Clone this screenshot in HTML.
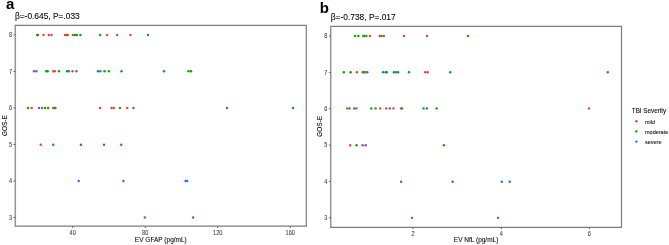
<!DOCTYPE html>
<html><head><meta charset="utf-8"><style>
html,body{margin:0;padding:0;background:#fff;}
svg{display:block;filter:blur(0.25px);font-family:"Liberation Sans",sans-serif;}
</style></head><body>
<svg width="669" height="245" viewBox="0 0 669 245">
<rect width="669" height="245" fill="#fff"/>
<line x1="14.70" y1="25.45" x2="306.90" y2="25.45" stroke="#7c7c7c" stroke-width="1.2"/>
<line x1="14.70" y1="226.20" x2="306.90" y2="226.20" stroke="#7c7c7c" stroke-width="1.2"/>
<line x1="306.30" y1="25.45" x2="306.30" y2="226.20" stroke="#7c7c7c" stroke-width="1.2"/>
<line x1="15.30" y1="25.45" x2="15.30" y2="226.20" stroke="#959595" stroke-width="1.5"/>
<line x1="13.50" y1="217.50" x2="15.30" y2="217.50" stroke="#555555" stroke-width="0.9"/>
<text transform="translate(12.00,219.80) scale(0.9,1.08)" font-size="6.2" fill="#3c3c3c" stroke="#3c3c3c" stroke-width="0.06" text-anchor="end">3</text>
<line x1="13.50" y1="180.98" x2="15.30" y2="180.98" stroke="#555555" stroke-width="0.9"/>
<text transform="translate(12.00,183.28) scale(0.9,1.08)" font-size="6.2" fill="#3c3c3c" stroke="#3c3c3c" stroke-width="0.06" text-anchor="end">4</text>
<line x1="13.50" y1="144.46" x2="15.30" y2="144.46" stroke="#555555" stroke-width="0.9"/>
<text transform="translate(12.00,146.76) scale(0.9,1.08)" font-size="6.2" fill="#3c3c3c" stroke="#3c3c3c" stroke-width="0.06" text-anchor="end">5</text>
<line x1="13.50" y1="107.94" x2="15.30" y2="107.94" stroke="#555555" stroke-width="0.9"/>
<text transform="translate(12.00,110.24) scale(0.9,1.08)" font-size="6.2" fill="#3c3c3c" stroke="#3c3c3c" stroke-width="0.06" text-anchor="end">6</text>
<line x1="13.50" y1="71.42" x2="15.30" y2="71.42" stroke="#555555" stroke-width="0.9"/>
<text transform="translate(12.00,73.72) scale(0.9,1.08)" font-size="6.2" fill="#3c3c3c" stroke="#3c3c3c" stroke-width="0.06" text-anchor="end">7</text>
<line x1="13.50" y1="34.90" x2="15.30" y2="34.90" stroke="#555555" stroke-width="0.9"/>
<text transform="translate(12.00,37.20) scale(0.9,1.08)" font-size="6.2" fill="#3c3c3c" stroke="#3c3c3c" stroke-width="0.06" text-anchor="end">8</text>
<line x1="72.70" y1="226.20" x2="72.70" y2="228.00" stroke="#555555" stroke-width="0.9"/>
<text transform="translate(72.70,234.80) scale(0.9,1.08)" font-size="6.2" fill="#3c3c3c" stroke="#3c3c3c" stroke-width="0.06" text-anchor="middle">40</text>
<line x1="145.20" y1="226.20" x2="145.20" y2="228.00" stroke="#555555" stroke-width="0.9"/>
<text transform="translate(145.20,234.80) scale(0.9,1.08)" font-size="6.2" fill="#3c3c3c" stroke="#3c3c3c" stroke-width="0.06" text-anchor="middle">80</text>
<line x1="217.70" y1="226.20" x2="217.70" y2="228.00" stroke="#555555" stroke-width="0.9"/>
<text transform="translate(217.70,234.80) scale(0.9,1.08)" font-size="6.2" fill="#3c3c3c" stroke="#3c3c3c" stroke-width="0.06" text-anchor="middle">120</text>
<line x1="290.20" y1="226.20" x2="290.20" y2="228.00" stroke="#555555" stroke-width="0.9"/>
<text transform="translate(290.20,234.80) scale(0.9,1.08)" font-size="6.2" fill="#3c3c3c" stroke="#3c3c3c" stroke-width="0.06" text-anchor="middle">160</text>
<circle cx="37.0" cy="34.95" r="1.2" fill="#f83838"/>
<circle cx="37.9" cy="34.95" r="1.2" fill="#00a800"/>
<circle cx="43.5" cy="34.95" r="1.2" fill="#f83838"/>
<circle cx="48.8" cy="34.95" r="1.2" fill="#f83838"/>
<circle cx="51.5" cy="34.95" r="1.2" fill="#f83838"/>
<circle cx="66.4" cy="34.95" r="1.2" fill="#00a800"/>
<circle cx="65.0" cy="34.95" r="1.2" fill="#f83838"/>
<circle cx="67.8" cy="34.95" r="1.2" fill="#f83838"/>
<circle cx="72.9" cy="34.95" r="1.2" fill="#f83838"/>
<circle cx="75.0" cy="34.95" r="1.2" fill="#00a800"/>
<circle cx="76.9" cy="34.95" r="1.2" fill="#00a800"/>
<circle cx="80.4" cy="34.95" r="1.2" fill="#00a800"/>
<circle cx="100.2" cy="34.95" r="1.2" fill="#00a800"/>
<circle cx="107.2" cy="34.95" r="1.2" fill="#f83838"/>
<circle cx="117.2" cy="34.95" r="1.2" fill="#f83838"/>
<circle cx="130.5" cy="34.95" r="1.2" fill="#f83838"/>
<circle cx="148.0" cy="34.95" r="1.2" fill="#00a800"/>
<circle cx="34.0" cy="71.25" r="1.2" fill="#f83838"/>
<circle cx="36.3" cy="71.25" r="1.2" fill="#226cff"/>
<circle cx="46.3" cy="71.25" r="1.2" fill="#00a800"/>
<circle cx="47.7" cy="71.25" r="1.2" fill="#00a800"/>
<circle cx="53.4" cy="71.25" r="1.2" fill="#f83838"/>
<circle cx="54.8" cy="71.25" r="1.2" fill="#f83838"/>
<circle cx="58.9" cy="71.25" r="1.2" fill="#00a800"/>
<circle cx="68.9" cy="71.25" r="1.2" fill="#226cff"/>
<circle cx="67.0" cy="71.25" r="1.2" fill="#00a800"/>
<circle cx="72.5" cy="71.25" r="1.2" fill="#f83838"/>
<circle cx="76.4" cy="71.25" r="1.2" fill="#226cff"/>
<circle cx="98.0" cy="71.25" r="1.2" fill="#00a800"/>
<circle cx="100.3" cy="71.25" r="1.2" fill="#226cff"/>
<circle cx="104.5" cy="71.25" r="1.2" fill="#00a800"/>
<circle cx="108.9" cy="71.25" r="1.2" fill="#00a800"/>
<circle cx="121.5" cy="71.25" r="1.2" fill="#00a800"/>
<circle cx="164.1" cy="71.25" r="1.2" fill="#00a800"/>
<circle cx="188.5" cy="71.25" r="1.2" fill="#00a800"/>
<circle cx="191.0" cy="71.25" r="1.2" fill="#00a800"/>
<circle cx="28.1" cy="107.95" r="1.2" fill="#00a800"/>
<circle cx="31.7" cy="107.95" r="1.2" fill="#f83838"/>
<circle cx="39.0" cy="107.95" r="1.2" fill="#226cff"/>
<circle cx="42.0" cy="107.95" r="1.2" fill="#f83838"/>
<circle cx="45.1" cy="107.95" r="1.2" fill="#00a800"/>
<circle cx="48.2" cy="107.95" r="1.2" fill="#00a800"/>
<circle cx="53.2" cy="107.95" r="1.2" fill="#f83838"/>
<circle cx="55.5" cy="107.95" r="1.2" fill="#f83838"/>
<circle cx="54.5" cy="107.95" r="1.2" fill="#00a800"/>
<circle cx="100.1" cy="107.95" r="1.2" fill="#f83838"/>
<circle cx="111.6" cy="107.95" r="1.2" fill="#f83838"/>
<circle cx="113.8" cy="107.95" r="1.2" fill="#f83838"/>
<circle cx="119.9" cy="107.95" r="1.2" fill="#00a800"/>
<circle cx="127.3" cy="107.95" r="1.2" fill="#f83838"/>
<circle cx="133.4" cy="107.95" r="1.2" fill="#226cff"/>
<circle cx="227.0" cy="107.95" r="1.2" fill="#226cff"/>
<circle cx="293.0" cy="107.95" r="1.2" fill="#00a800"/>
<circle cx="40.7" cy="144.70" r="1.2" fill="#f83838"/>
<circle cx="53.2" cy="144.70" r="1.2" fill="#00a800"/>
<circle cx="80.9" cy="144.70" r="1.2" fill="#00a800"/>
<circle cx="104.0" cy="144.70" r="1.2" fill="#226cff"/>
<circle cx="121.2" cy="144.70" r="1.2" fill="#00a800"/>
<circle cx="78.7" cy="181.05" r="1.2" fill="#226cff"/>
<circle cx="123.4" cy="181.05" r="1.2" fill="#226cff"/>
<circle cx="185.6" cy="181.05" r="1.2" fill="#226cff"/>
<circle cx="187.2" cy="181.05" r="1.2" fill="#226cff"/>
<circle cx="144.8" cy="217.50" r="1.2" fill="#226cff"/>
<circle cx="193.1" cy="217.50" r="1.2" fill="#226cff"/>
<text x="160.80" y="241.7" font-size="6.5" fill="#000" stroke="#000" stroke-width="0.07" text-anchor="middle">EV GFAP (pg/mL)</text>
<text transform="translate(6.6,125.70) rotate(-90)" font-size="6.45" fill="#000" stroke="#000" stroke-width="0.07" text-anchor="middle">GOS-E</text>
<text x="14.9" y="18.8" font-size="8.4" fill="#000" stroke="#000" stroke-width="0.08">β=-0.645, P=.033</text>
<text x="6.0" y="9.2" font-size="15" font-weight="bold" fill="#000">a</text>
<line x1="330.10" y1="26.40" x2="622.10" y2="26.40" stroke="#7c7c7c" stroke-width="1.2"/>
<line x1="330.10" y1="227.30" x2="622.10" y2="227.30" stroke="#7c7c7c" stroke-width="1.2"/>
<line x1="621.50" y1="26.40" x2="621.50" y2="227.30" stroke="#7c7c7c" stroke-width="1.2"/>
<line x1="330.70" y1="26.40" x2="330.70" y2="227.30" stroke="#959595" stroke-width="1.5"/>
<line x1="328.90" y1="217.80" x2="330.70" y2="217.80" stroke="#555555" stroke-width="0.9"/>
<text transform="translate(327.40,220.10) scale(0.9,1.08)" font-size="6.2" fill="#3c3c3c" stroke="#3c3c3c" stroke-width="0.06" text-anchor="end">3</text>
<line x1="328.90" y1="181.44" x2="330.70" y2="181.44" stroke="#555555" stroke-width="0.9"/>
<text transform="translate(327.40,183.74) scale(0.9,1.08)" font-size="6.2" fill="#3c3c3c" stroke="#3c3c3c" stroke-width="0.06" text-anchor="end">4</text>
<line x1="328.90" y1="145.08" x2="330.70" y2="145.08" stroke="#555555" stroke-width="0.9"/>
<text transform="translate(327.40,147.38) scale(0.9,1.08)" font-size="6.2" fill="#3c3c3c" stroke="#3c3c3c" stroke-width="0.06" text-anchor="end">5</text>
<line x1="328.90" y1="108.72" x2="330.70" y2="108.72" stroke="#555555" stroke-width="0.9"/>
<text transform="translate(327.40,111.02) scale(0.9,1.08)" font-size="6.2" fill="#3c3c3c" stroke="#3c3c3c" stroke-width="0.06" text-anchor="end">6</text>
<line x1="328.90" y1="72.36" x2="330.70" y2="72.36" stroke="#555555" stroke-width="0.9"/>
<text transform="translate(327.40,74.66) scale(0.9,1.08)" font-size="6.2" fill="#3c3c3c" stroke="#3c3c3c" stroke-width="0.06" text-anchor="end">7</text>
<line x1="328.90" y1="36.00" x2="330.70" y2="36.00" stroke="#555555" stroke-width="0.9"/>
<text transform="translate(327.40,38.30) scale(0.9,1.08)" font-size="6.2" fill="#3c3c3c" stroke="#3c3c3c" stroke-width="0.06" text-anchor="end">8</text>
<line x1="413.10" y1="227.30" x2="413.10" y2="229.10" stroke="#555555" stroke-width="0.9"/>
<text transform="translate(413.10,235.90) scale(0.9,1.08)" font-size="6.2" fill="#3c3c3c" stroke="#3c3c3c" stroke-width="0.06" text-anchor="middle">2</text>
<line x1="501.30" y1="227.30" x2="501.30" y2="229.10" stroke="#555555" stroke-width="0.9"/>
<text transform="translate(501.30,235.90) scale(0.9,1.08)" font-size="6.2" fill="#3c3c3c" stroke="#3c3c3c" stroke-width="0.06" text-anchor="middle">4</text>
<line x1="589.40" y1="227.30" x2="589.40" y2="229.10" stroke="#555555" stroke-width="0.9"/>
<text transform="translate(589.40,235.90) scale(0.9,1.08)" font-size="6.2" fill="#3c3c3c" stroke="#3c3c3c" stroke-width="0.06" text-anchor="middle">6</text>
<circle cx="355.0" cy="36.05" r="1.2" fill="#00a800"/>
<circle cx="358.4" cy="36.05" r="1.2" fill="#00a800"/>
<circle cx="363.2" cy="36.05" r="1.2" fill="#f83838"/>
<circle cx="364.2" cy="36.05" r="1.2" fill="#00a800"/>
<circle cx="366.4" cy="36.05" r="1.2" fill="#00a800"/>
<circle cx="370.0" cy="36.05" r="1.2" fill="#f83838"/>
<circle cx="379.8" cy="36.05" r="1.2" fill="#f83838"/>
<circle cx="383.8" cy="36.05" r="1.2" fill="#f83838"/>
<circle cx="381.5" cy="36.05" r="1.2" fill="#00a800"/>
<circle cx="404.0" cy="36.05" r="1.2" fill="#f83838"/>
<circle cx="427.0" cy="36.05" r="1.2" fill="#f83838"/>
<circle cx="467.9" cy="36.05" r="1.2" fill="#00a800"/>
<circle cx="343.8" cy="72.20" r="1.2" fill="#00a800"/>
<circle cx="350.6" cy="72.20" r="1.2" fill="#00a800"/>
<circle cx="356.9" cy="72.20" r="1.2" fill="#f83838"/>
<circle cx="362.8" cy="72.20" r="1.2" fill="#00a800"/>
<circle cx="363.9" cy="72.20" r="1.2" fill="#00a800"/>
<circle cx="365.4" cy="72.20" r="1.2" fill="#f83838"/>
<circle cx="367.3" cy="72.20" r="1.2" fill="#226cff"/>
<circle cx="383.0" cy="72.20" r="1.2" fill="#226cff"/>
<circle cx="385.6" cy="72.20" r="1.2" fill="#226cff"/>
<circle cx="386.8" cy="72.20" r="1.2" fill="#00a800"/>
<circle cx="396.0" cy="72.20" r="1.2" fill="#226cff"/>
<circle cx="393.9" cy="72.20" r="1.2" fill="#00a800"/>
<circle cx="398.1" cy="72.20" r="1.2" fill="#00a800"/>
<circle cx="409.0" cy="72.20" r="1.2" fill="#00a800"/>
<circle cx="425.2" cy="72.20" r="1.2" fill="#f83838"/>
<circle cx="427.7" cy="72.20" r="1.2" fill="#f83838"/>
<circle cx="450.3" cy="72.20" r="1.2" fill="#00a800"/>
<circle cx="607.8" cy="72.20" r="1.2" fill="#00a800"/>
<circle cx="347.2" cy="108.40" r="1.2" fill="#f83838"/>
<circle cx="349.5" cy="108.40" r="1.2" fill="#00a800"/>
<circle cx="356.4" cy="108.40" r="1.2" fill="#f83838"/>
<circle cx="354.2" cy="108.40" r="1.2" fill="#226cff"/>
<circle cx="371.3" cy="108.40" r="1.2" fill="#00a800"/>
<circle cx="375.6" cy="108.40" r="1.2" fill="#00a800"/>
<circle cx="380.2" cy="108.40" r="1.2" fill="#f83838"/>
<circle cx="386.2" cy="108.40" r="1.2" fill="#f83838"/>
<circle cx="389.9" cy="108.40" r="1.2" fill="#226cff"/>
<circle cx="393.5" cy="108.40" r="1.2" fill="#f83838"/>
<circle cx="402.1" cy="108.40" r="1.2" fill="#f83838"/>
<circle cx="401.2" cy="108.40" r="1.2" fill="#00a800"/>
<circle cx="423.5" cy="108.40" r="1.2" fill="#226cff"/>
<circle cx="426.9" cy="108.40" r="1.2" fill="#00a800"/>
<circle cx="436.6" cy="108.40" r="1.2" fill="#00a800"/>
<circle cx="589.0" cy="108.40" r="1.2" fill="#f83838"/>
<circle cx="350.2" cy="145.25" r="1.2" fill="#f83838"/>
<circle cx="356.6" cy="145.25" r="1.2" fill="#00a800"/>
<circle cx="362.6" cy="145.25" r="1.2" fill="#f83838"/>
<circle cx="365.7" cy="145.25" r="1.2" fill="#226cff"/>
<circle cx="443.9" cy="145.25" r="1.2" fill="#00a800"/>
<circle cx="401.1" cy="181.70" r="1.2" fill="#226cff"/>
<circle cx="452.6" cy="181.70" r="1.2" fill="#226cff"/>
<circle cx="501.8" cy="181.70" r="1.2" fill="#226cff"/>
<circle cx="509.7" cy="181.70" r="1.2" fill="#226cff"/>
<circle cx="411.9" cy="217.85" r="1.2" fill="#226cff"/>
<circle cx="498.0" cy="217.85" r="1.2" fill="#226cff"/>
<text x="476.10" y="241.7" font-size="6.5" fill="#000" stroke="#000" stroke-width="0.07" text-anchor="middle">EV NfL (pg/mL)</text>
<text transform="translate(321.9,126.30) rotate(-90)" font-size="6.45" fill="#000" stroke="#000" stroke-width="0.07" text-anchor="middle">GOS-E</text>
<text x="330.8" y="20.2" font-size="8.4" fill="#000" stroke="#000" stroke-width="0.08">β=-0.738, P=.017</text>
<text x="319.8" y="12.6" font-size="15" font-weight="bold" fill="#000">b</text>
<text x="631.8" y="112.9" font-size="6.3" fill="#000" stroke="#000" stroke-width="0.07">TBI Severity</text>
<circle cx="636.4" cy="121.20" r="1.2" fill="#f83838"/>
<text x="645.0" y="123.70" font-size="5.5" fill="#1a1a1a" stroke="#1a1a1a" stroke-width="0.1">mild</text>
<circle cx="636.4" cy="131.40" r="1.2" fill="#00a800"/>
<text x="645.0" y="133.90" font-size="5.5" fill="#1a1a1a" stroke="#1a1a1a" stroke-width="0.1">moderate</text>
<circle cx="636.4" cy="141.60" r="1.2" fill="#226cff"/>
<text x="645.0" y="144.10" font-size="5.5" fill="#1a1a1a" stroke="#1a1a1a" stroke-width="0.1">severe</text>
</svg>
</body></html>
